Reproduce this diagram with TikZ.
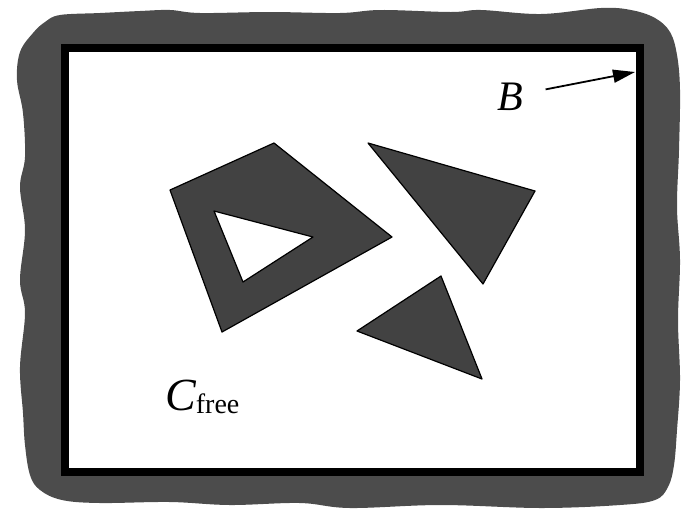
\documentclass[tikz,border=0pt]{standalone}
\usepackage{fontspec}
\setmainfont{Liberation Serif}
\usetikzlibrary{arrows.meta}

\begin{document}
\begin{tikzpicture}[x=1pt, y=-1pt,
  obst/.style={draw=black, line width=1.2pt, fill=black!74, line join=round},
  arr/.style={-{Triangle[length=22pt,width=13pt]}, line width=1.8pt, shorten <=22pt}]
\useasboundingbox (0,0) rectangle (682,515);
\fill[black!70] plot[smooth cycle, tension=0.6] coordinates {
  (60,15) (100,13) (140,11) (170,10) (200,13) (270,12) (340,13) (381,10)
  (451,12) (481,10) (541,14) (601,8) (631,10) (655,18) (670,32) (677,55)
  (680,90) (679,150) (677,207) (680,260) (678,320) (680,380) (677,430)
  (674,465) (668,487) (655,500) (620,505) (541,508) (441,505) (350,508)
  (300,503) (230,505) (170,502) (100,503) (62,500) (40,490) (30,475)
  (25,445) (23,413) (20,367) (25,313) (20,280) (25,230) (20,187) (25,157)
  (23,113) (17,80) (20,52) (33,33) (45,22)};
\draw[line width=8pt, fill=white] (65,48) rectangle (640,472);
\draw[obst, even odd rule] (170,190) -- (274,143) -- (392,237) -- (222,332) -- cycle
  (214,211) -- (313,237) -- (243,282) -- cycle;
\draw[obst] (368,143) -- (535,191) -- (483,284) -- cycle;
\draw[obst] (357,331) -- (441,276) -- (482,379) -- cycle;
\node[anchor=base, inner sep=1pt] (B) at (510,110) {\fontsize{42}{42}\selectfont\itshape B};
\coordinate (Btip) at (635,72);
\draw[arr] (B) -- (Btip);
\node[anchor=base west, inner sep=0pt] (Cfree) at (165,410)
  {{\fontsize{46}{46}\selectfont\itshape C}\raisebox{-3pt}{\fontsize{28}{28}\selectfont free}};
\end{tikzpicture}
\end{document}
